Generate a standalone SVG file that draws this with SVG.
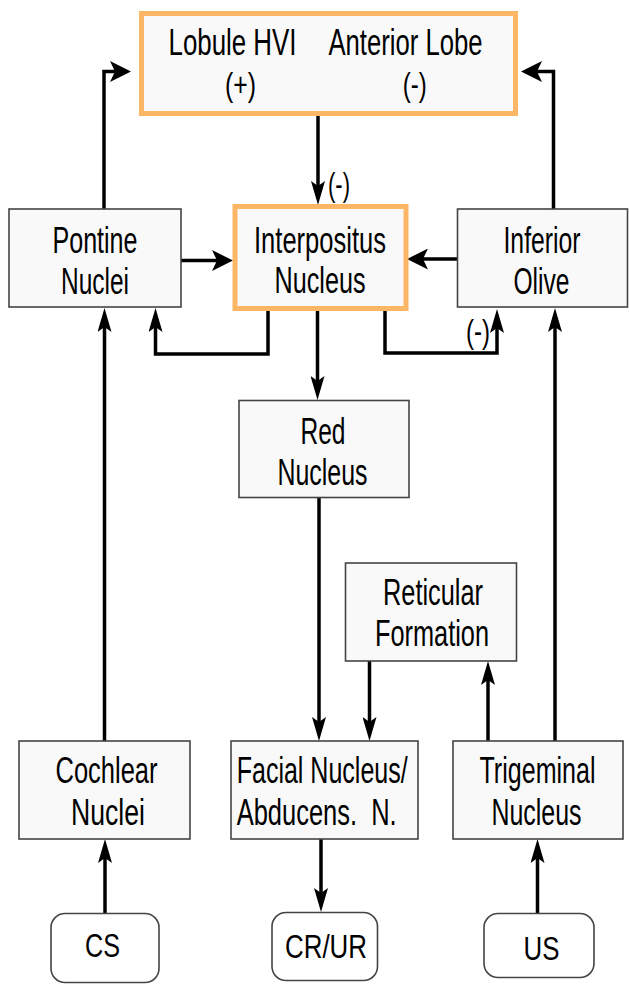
<svg xmlns="http://www.w3.org/2000/svg" width="629" height="984" viewBox="0 0 629 984">
<style>
  .box { fill: #f9f9f9; stroke: #444; stroke-width: 1.6; }
  .obox { fill: #f9f9f9; stroke: #fdb666; stroke-width: 5; }
  .rbox { fill: #ffffff; stroke: #444; stroke-width: 1.6; }
  text { font-family: "Liberation Sans", Arial, sans-serif; font-size: 36px; fill: #000; text-anchor: middle; }
  .sm { font-size: 34px; }
  .lbl { font-size: 33px; }
  .c { fill: none; stroke: #000; stroke-width: 3.5; }
  .v { marker-end: url(#mv); }
  .h { marker-end: url(#mh); }
</style>
<defs>
  <marker id="mv" markerUnits="userSpaceOnUse" viewBox="0 0 24 14" markerWidth="24" markerHeight="14" refX="16" refY="7" orient="auto">
    <path d="M0,0 L24,7 L0,14 L5,7 Z" fill="#000"/>
  </marker>
  <marker id="mh" markerUnits="userSpaceOnUse" viewBox="0 0 21 21" markerWidth="21" markerHeight="21" refX="13" refY="10.5" orient="auto">
    <path d="M0,0 L21,10.5 L0,21 L5,10.5 Z" fill="#000"/>
  </marker>
</defs>
<rect width="629" height="984" fill="#ffffff"/>

<g id="connectors">
  <path class="c v" d="M318,116 V197"/>
  <path class="c h" d="M104,209 V71.5 H123"/>
  <path class="c h" d="M553.5,209 V71.5 H529"/>
  <path class="c h" d="M181,260.5 H225"/>
  <path class="c h" d="M457,259 H415"/>
  <path class="c v" d="M268,310 V354 H155.5 V316"/>
  <path class="c v" d="M385,310 V353 H497 V317"/>
  <path class="c v" d="M317.5,310 V392"/>
  <path class="c v" d="M319,498 V733"/>
  <path class="c v" d="M369.5,661 V733"/>
  <path class="c v" d="M488,741 V669"/>
  <path class="c v" d="M555,741 V316"/>
  <path class="c v" d="M104.5,741 V316"/>
  <path class="c v" d="M321,839 V904"/>
  <path class="c v" d="M105,913 V847"/>
  <path class="c v" d="M537.5,913 V847"/>
  <text class="lbl" x="339" y="196" textLength="22" lengthAdjust="spacingAndGlyphs">(-)</text>
  <text class="lbl" x="478" y="343" textLength="24" lengthAdjust="spacingAndGlyphs">(-)</text>
</g>

<g id="node-cerebellar-cortex">
  <rect class="obox" x="141.5" y="13.5" width="374" height="100"/>
  <text x="232.5" y="55" textLength="128" lengthAdjust="spacingAndGlyphs">Lobule HVI</text>
  <text x="405.5" y="55" textLength="154" lengthAdjust="spacingAndGlyphs">Anterior Lobe</text>
  <text class="sm" x="240.5" y="96" textLength="31" lengthAdjust="spacingAndGlyphs">(+)</text>
  <text class="sm" x="414.7" y="96" textLength="24" lengthAdjust="spacingAndGlyphs">(-)</text>
</g>

<g id="node-pontine">
  <rect class="box" x="9" y="209" width="172" height="98"/>
  <text x="95" y="253" textLength="85" lengthAdjust="spacingAndGlyphs">Pontine</text>
  <text x="95" y="294" textLength="68" lengthAdjust="spacingAndGlyphs">Nuclei</text>
</g>

<g id="node-interpositus">
  <rect class="obox" x="235" y="206.5" width="171" height="102"/>
  <text x="320" y="253" textLength="132" lengthAdjust="spacingAndGlyphs">Interpositus</text>
  <text x="320" y="293" textLength="91" lengthAdjust="spacingAndGlyphs">Nucleus</text>
</g>

<g id="node-olive">
  <rect class="box" x="457.5" y="209" width="170" height="98"/>
  <text x="542" y="253" textLength="77" lengthAdjust="spacingAndGlyphs">Inferior</text>
  <text x="541.5" y="294" textLength="56" lengthAdjust="spacingAndGlyphs">Olive</text>
</g>

<g id="node-red">
  <rect class="box" x="239" y="400.5" width="170" height="97"/>
  <text x="323" y="444" textLength="45" lengthAdjust="spacingAndGlyphs">Red</text>
  <text x="322.5" y="485" textLength="90" lengthAdjust="spacingAndGlyphs">Nucleus</text>
</g>

<g id="node-reticular">
  <rect class="box" x="345.5" y="563" width="171" height="98"/>
  <text x="433" y="605" textLength="100" lengthAdjust="spacingAndGlyphs">Reticular</text>
  <text x="432" y="646" textLength="114" lengthAdjust="spacingAndGlyphs">Formation</text>
</g>

<g id="node-cochlear">
  <rect class="box" x="19" y="741" width="171" height="98"/>
  <text x="106.5" y="783" textLength="102" lengthAdjust="spacingAndGlyphs">Cochlear</text>
  <text x="108" y="825" textLength="74" lengthAdjust="spacingAndGlyphs">Nuclei</text>
</g>

<g id="node-facial">
  <rect class="box" x="231" y="741" width="187" height="98"/>
  <text x="236.7" y="783" style="text-anchor:start" textLength="171" lengthAdjust="spacingAndGlyphs">Facial Nucleus/</text>
  <text x="236.7" y="825" style="text-anchor:start;white-space:pre" xml:space="preserve" textLength="160" lengthAdjust="spacingAndGlyphs">Abducens.  N.</text>
</g>

<g id="node-trigeminal">
  <rect class="box" x="453" y="741" width="170" height="98"/>
  <text x="537.5" y="783" textLength="116" lengthAdjust="spacingAndGlyphs">Trigeminal</text>
  <text x="536.5" y="825" textLength="90" lengthAdjust="spacingAndGlyphs">Nucleus</text>
</g>

<g id="node-cs">
  <rect class="rbox" x="51" y="913.5" width="108" height="69" rx="14" ry="14"/>
  <text class="sm" x="102.5" y="957" textLength="35" lengthAdjust="spacingAndGlyphs">CS</text>
</g>

<g id="node-crur">
  <rect class="rbox" x="272" y="912.5" width="105.5" height="68" rx="14" ry="14"/>
  <text class="sm" x="326" y="958" textLength="82" lengthAdjust="spacingAndGlyphs">CR/UR</text>
</g>

<g id="node-us">
  <rect class="rbox" x="484" y="913.5" width="110" height="64" rx="14" ry="14"/>
  <text class="sm" x="541.5" y="960" textLength="36" lengthAdjust="spacingAndGlyphs">US</text>
</g>
</svg>
